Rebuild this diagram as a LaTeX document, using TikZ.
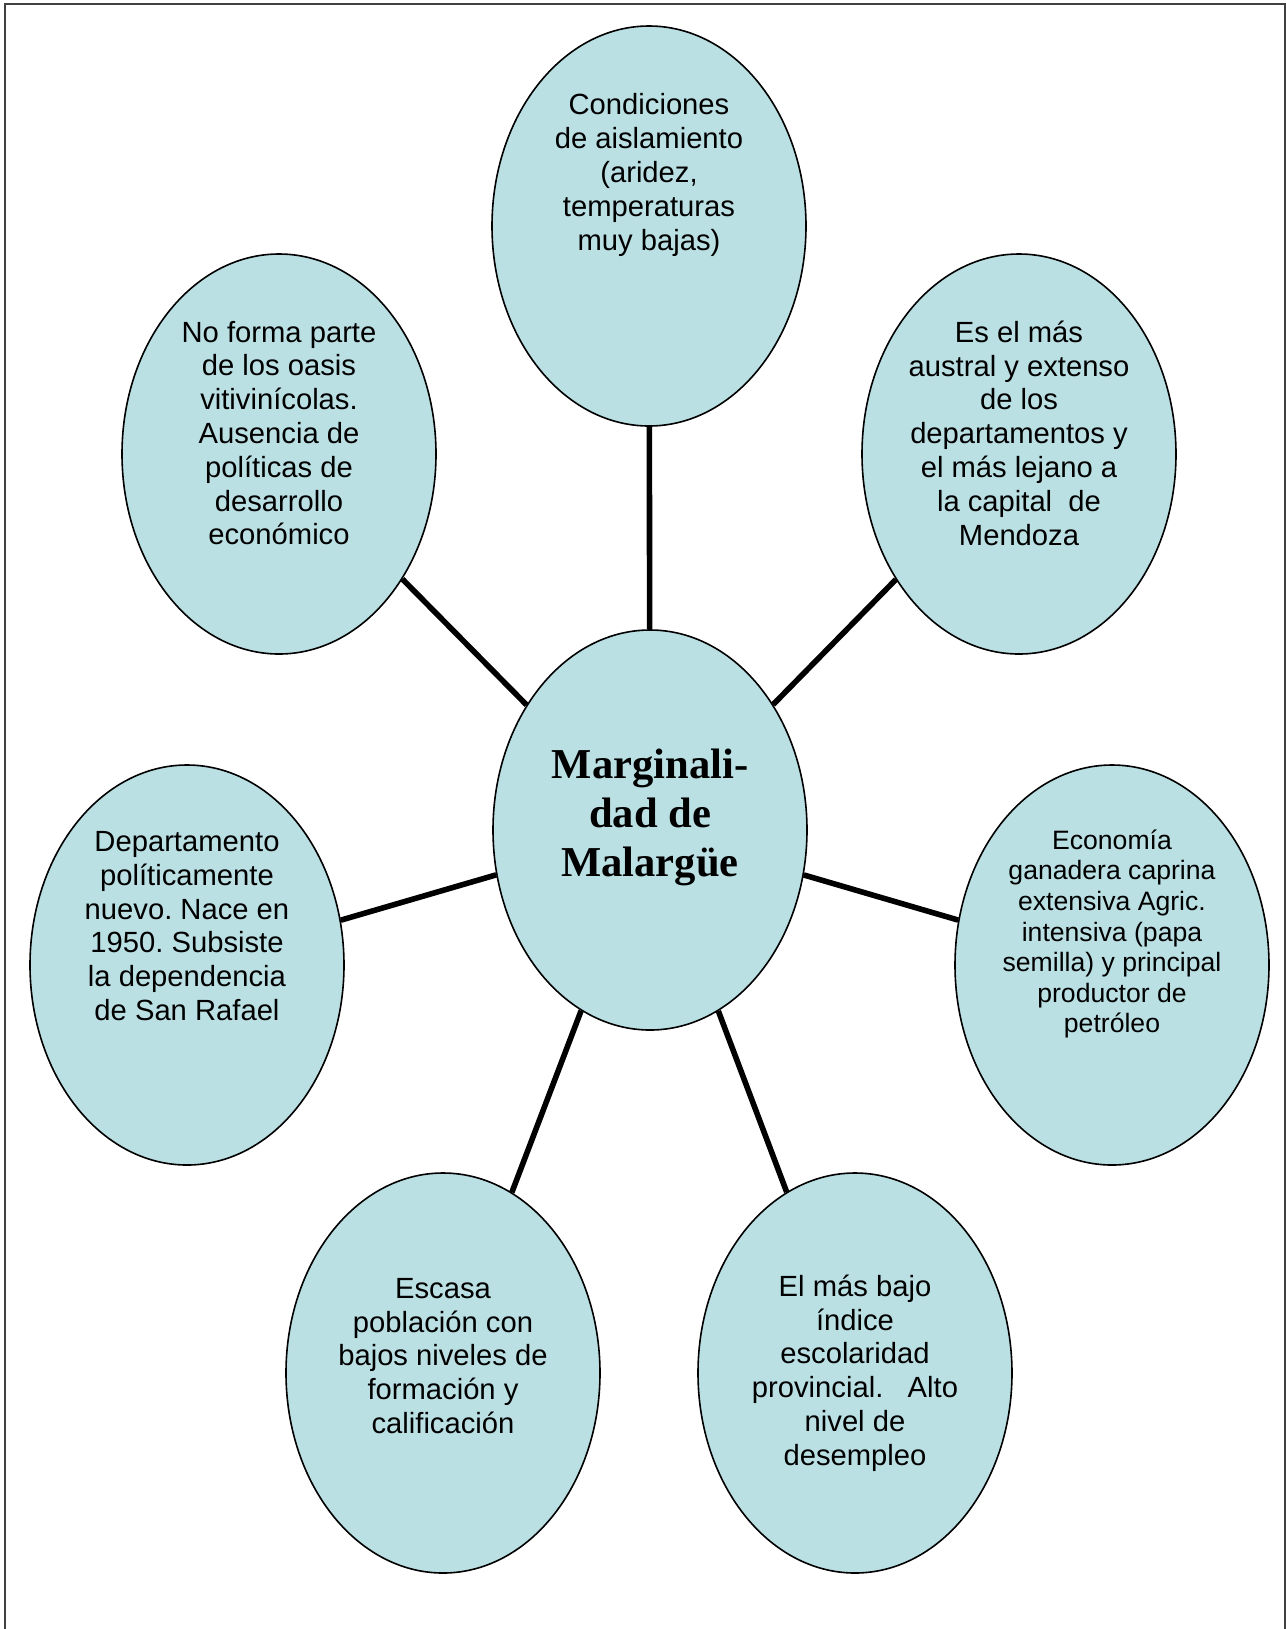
\documentclass[tikz,border=0pt]{standalone}
\usepackage{fontspec}
\setmainfont{Liberation Sans}
\newfontfamily\serifbold{Liberation Serif}
\usetikzlibrary{shapes.geometric}
\definecolor{aqua}{RGB}{186,224,228}
\frenchspacing
\begin{document}
\begin{tikzpicture}[x=0.5pt, y=-0.5pt]
  \tikzstyle{blob} = [ellipse, draw=black, line width=0.8pt, fill=aqua, minimum width=157pt, minimum height=200pt, inner sep=0pt]
  \tikzstyle{txt} = [align=center, inner sep=0pt, font=\fontsize{14.6}{16.9}\selectfont]
  \tikzstyle{spoke} = [line width=2.8pt]

  \useasboundingbox (0,0) rectangle (1286,1629);
  % open frame, no bottom side
  \draw[line width=0.8pt, black!75] (5,1629) -- (5,4) -- (1285,4) -- (1285,1629);

  \node[blob] (m0) at (650,830) {};
  \node[blob] (m1) at (649,226) {};
  \node[blob] (m2) at (1019,454) {};
  \node[blob] (m3) at (1112,965) {};
  \node[blob] (m4) at (855,1373) {};
  \node[blob] (m5) at (443,1373) {};
  \node[blob] (m6) at (187,965) {};
  \node[blob] (m7) at (279,454) {};

  \draw[spoke] (m0)--(m1);
  \draw[spoke] (m0)--(m2);
  \draw[spoke] (m0)--(m3);
  \draw[spoke] (m0)--(m4);
  \draw[spoke] (m0)--(m5);
  \draw[spoke] (m0)--(m6);
  \draw[spoke] (m0)--(m7);

  \node[txt, font=\serifbold\bfseries\fontsize{21.3}{24.5}\selectfont] (t0) at ([yshift=6.5pt]m0.center) {Marginali-\\dad de\\Malargüe};
  \node[txt] (t1) at ([yshift=25.5pt]m1.center) {Condiciones\\de aislamiento\\(aridez,\\temperaturas\\muy bajas)};
  \node[txt] (t2) at ([yshift=10.5pt]m2.center) {Es el más\\austral y extenso\\de los\\departamentos y\\el más lejano a\\la capital\ \ de\\Mendoza};
  \node[txt, font=\fontsize{13.3}{15.3}\selectfont] (t3) at ([yshift=15.5pt]m3.center) {Economía\\ganadera caprina\\extensiva Agric.\\intensiva (papa\\semilla) y principal\\productor de\\petróleo};
  \node[txt] (t4) at ([yshift=0pt]m4.center) {El más bajo\\índice\\escolaridad\\provincial.\ \ \ Alto\\nivel de\\desempleo};
  \node[txt] (t5) at ([yshift=8.5pt]m5.center) {Escasa\\población con\\bajos niveles de\\formación y\\calificación};
  \node[txt] (t6) at ([yshift=19.5pt]m6.center) {Departamento\\políticamente\\nuevo. Nace en\\1950. Subsiste\\la dependencia\\de San Rafael};
  \node[txt] (t7) at ([yshift=10.5pt]m7.center) {No forma parte\\de los oasis\\vitivinícolas.\\Ausencia de\\políticas de\\desarrollo\\económico};
\end{tikzpicture}
\end{document}
